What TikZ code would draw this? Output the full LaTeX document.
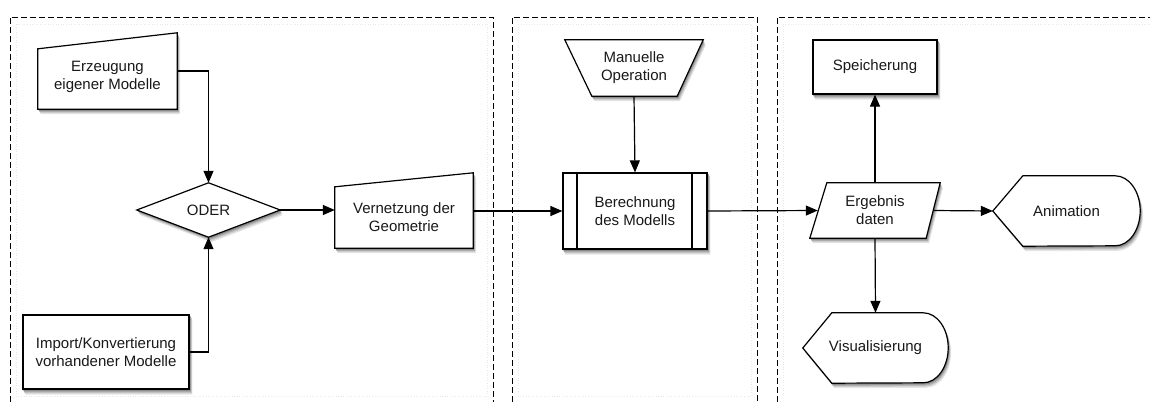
\documentclass[tikz,border=0pt]{standalone}
\usepackage{fontspec}
\setmainfont{Liberation Sans}
\usetikzlibrary{arrows.meta,backgrounds}
\tikzset{
	txt/.style={align=center,inner sep=0pt,text=black!90,font=\fontsize{15}{18}\selectfont},
	outl/.style={draw,line width=1.2pt,fill=white},
	lane/.style={line width=1pt,dash pattern=on 6pt off 3pt},
	faint/.style={gray!18,line width=.6pt,dotted},
	arr/.style={line width=1.2pt,-{Triangle[length=12pt,width=10pt]}}
}
% Sonderformen, #1 Stil, #2 Verschiebung
\newcommand\formen[2]{%
	\path[#1]([#2]erz.south west)--([#2]erz.south east)--([#2,yshift=12pt]erz.north east)--([#2,yshift=-4pt]erz.north west)--cycle;
	\path[#1]([#2]vern.south west)--([#2]vern.south east)--([#2,yshift=13pt]vern.north east)--([#2,yshift=-1pt]vern.north west)--cycle;
	\path[#1]([#2]oder.west)--([#2]oder.north)--([#2]oder.east)--([#2]oder.south)--cycle;
	\path[#1]([#2]manop.north west)--([#2]manop.north east)--([#2,xshift=-26pt]manop.south east)--([#2,xshift=27pt]manop.south west)--cycle;
	\path[#1]([#2]erg.south west)--([#2,xshift=-14pt]erg.south east)--([#2]erg.north east)--([#2,xshift=17pt]erg.north west)--cycle;
	\path[#1]([#2]anim.west)--([#2,xshift=30pt]anim.north west)--([#2,xshift=-25pt]anim.north east)
		arc[start angle=90,end angle=-90,x radius=25pt,y radius=35pt]--([#2,xshift=30pt]anim.south west)--cycle;
	\path[#1]([#2]vis.west)--([#2,xshift=29pt]vis.north west)--([#2,xshift=-25pt]vis.north east)
		arc[start angle=90,end angle=-90,x radius=25pt,y radius=35pt]--([#2,xshift=29pt]vis.south west)--cycle;}
% Rechteckknoten
\newcommand\kaesten[2]{%
	\path[#1]([#2]imp.south west)rectangle([#2]imp.north east)
		([#2]ber.south west)rectangle([#2]ber.north east)
		([#2]speich.south west)rectangle([#2]speich.north east);}
\begin{document}
\begin{tikzpicture}[x=1pt,y=-1pt]
		\useasboundingbox(0,0)rectangle(1150,402);
		% Spalten
		\draw[faint](16,24)rectangle(487,396);
		\draw[faint](518,24)rectangle(751,396);
		\draw[faint](783,396)--(783,24)--(1150,24);
		\draw[lane](10,402)--(10,17)--(493,17)--(493,402);
		\draw[lane](512,402)--(512,17)--(757,17)--(757,402);
		\draw[lane](777,402)--(777,17)--(1152,17);
		% Knoten
		\node[txt,minimum width=139pt,minimum height=64pt](erz)at(107.5,77){Erzeugung\\eigener Modelle};
		\node[txt,outl,minimum width=166pt,minimum height=74pt](imp)at(106,352){Import/Konvertierung\\vorhandener Modelle};
		\node[txt,minimum width=143pt,minimum height=54pt](oder)at(208.5,210){ODER};
		\node[txt,minimum width=138pt,minimum height=62pt](vern)at(404,217){Vernetzung der\\Geometrie};
		\node[txt,minimum width=138pt,minimum height=56pt](manop)at(634,68){Manuelle\\Operation};
		\node[txt,outl,minimum width=144pt,minimum height=76pt,
			path picture={\draw[line width=1.1pt]([xshift=14pt]path picture bounding box.north west)--([xshift=14pt]path picture bounding box.south west)
				([xshift=-15pt]path picture bounding box.north east)--([xshift=-15pt]path picture bounding box.south east);}](ber)at(635,211){Berechnung\\des Modells};
		\node[txt,outl,minimum width=124pt,minimum height=54pt](speich)at(875,67){Speicherung};
		\node[txt,minimum width=130pt,minimum height=55pt](erg)at(875,210.5){Ergebnis\\daten};
		\node[txt,minimum width=147pt,minimum height=70pt](anim)at(1066.5,211){Animation};
		\node[txt,minimum width=145pt,minimum height=70pt](vis)at(875.5,348){Visualisierung};
		\begin{pgfonlayer}{background}
		% Schatten
		\formen{fill=black!10}{xshift=2.8pt,yshift=-5pt}
		\kaesten{fill=black!10}{xshift=2.8pt,yshift=-5pt}
		\formen{fill=black!20}{xshift=2.2pt,yshift=-3.8pt}
		\kaesten{fill=black!20}{xshift=2.2pt,yshift=-3.8pt}
		\formen{fill=black!32}{xshift=1.6pt,yshift=-2.7pt}
		\kaesten{fill=black!32}{xshift=1.6pt,yshift=-2.7pt}
		\formen{fill=black!45}{xshift=1pt,yshift=-1.6pt}
		\kaesten{fill=black!45}{xshift=1pt,yshift=-1.6pt}
		% Umrisse
		\formen{outl}{xshift=0pt}
		\end{pgfonlayer}
		% Pfeile
		\draw[arr]([yshift=6pt]erz.east)-|(oder.north);
		\draw[arr](imp.east)-|(oder.south);
		\draw[arr](oder.east)--(oder.east-|vern.west);
		\draw[arr](ber.west-|vern.east)--(ber.west);
		\draw[arr](manop.south)--(ber.north);
		\draw[arr](ber.east)--([xshift=8pt]erg.west);
		\draw[arr](erg.north)--(speich.south);
		\draw[arr](erg.south)--(vis.north);
		\draw[arr]([xshift=-7pt]erg.east)--(anim.west);
	    \end{tikzpicture}
\end{document}
